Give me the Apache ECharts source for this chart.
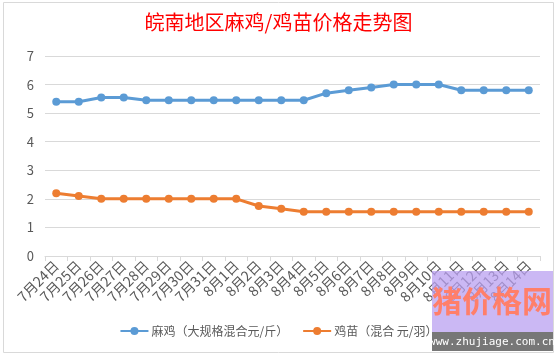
<!DOCTYPE html>
<html><head><meta charset="utf-8">
<script src="https://cdn.jsdelivr.net/npm/echarts@6/dist/echarts.min.js"></script>
<style>html,body{margin:0;padding:0;background:#fff}#c{width:557px;height:356px}</style>
</head><body><div id="c"></div>
<script>
var categories = ['7月24日','7月25日','7月26日','7月27日','7月28日','7月29日','7月30日','7月31日','8月1日','8月2日','8月3日','8月4日','8月5日','8月6日','8月7日','8月8日','8月9日','8月10日','8月11日','8月12日','8月13日','8月14日'];
var maji = [5.4,5.4,5.55,5.55,5.45,5.45,5.45,5.45,5.45,5.45,5.45,5.45,5.7,5.8,5.9,6.0,6.0,6.0,5.8,5.8,5.8,5.8];
var jimiao = [2.2,2.1,2.0,2.0,2.0,2.0,2.0,2.0,2.0,1.75,1.65,1.55,1.55,1.55,1.55,1.55,1.55,1.55,1.55,1.55,1.55,1.55];
var seriesNames = ['麻鸡（大规格混合元/斤）','鸡苗（混合 元/羽）'];
var yTicks = [0,1,2,3,4,5,6,7];

var chart = echarts.init(document.getElementById('c'), null, {renderer:'canvas'});
var font = '"Noto Sans CJK SC", sans-serif';
function mk(name, data, color){
  return {name:name, type:'line', data:data, symbol:'circle', symbolSize:8,
    lineStyle:{width:3,color:color}, itemStyle:{color:color}, animation:false};
}
chart.setOption({
  animation:false,
  textStyle:{fontFamily:font},
  title:{text:'皖南地区麻鸡/鸡苗价格走势图', left:'center', top:7,
    textStyle:{color:'#FF0000', fontSize:20, fontWeight:'normal', fontFamily:font}},
  grid:{left:45, right:17, top:56, bottom:100},
  legend:{bottom:14, left:'center', itemWidth:28, itemHeight:10, itemGap:14,
    textStyle:{color:'#595959', fontSize:12, fontFamily:font, padding:[0,0,0,-2]},
    data:seriesNames},
  xAxis:{type:'category', data:categories, boundaryGap:true,
    axisLine:{lineStyle:{color:'#D9D9D9'}},
    axisTick:{show:true, length:5, lineStyle:{color:'#D9D9D9'}},
    axisLabel:{rotate:45, color:'#595959', fontSize:14, interval:0, margin:7, fontFamily:font}},
  yAxis:{type:'value', min:yTicks[0], max:yTicks[yTicks.length-1], interval:1,
    axisLine:{show:false}, axisTick:{show:false},
    axisLabel:{color:'#595959', fontSize:13, margin:11, fontFamily:font},
    splitLine:{lineStyle:{color:'#D9D9D9'}}},
  series:[mk(seriesNames[0], maji, '#5B9BD5'), mk(seriesNames[1], jimiao, '#ED7D31')],
  graphic:[
    {type:'rect', shape:{x:3.5,y:2.5,width:550,height:350}, style:{fill:null, stroke:'#D9D9D9', lineWidth:1}, z:-1},
    {type:'rect', shape:{x:432,y:271,width:121,height:61}, style:{fill:'rgba(185,160,240,0.75)'}, z:100},
    {type:'text', x:492, y:301, style:{text:'猪价格网', fill:'#FF7F6A', font:'bold 30px "Noto Sans CJK SC", serif', align:'center', verticalAlign:'middle'}, z:101},
    {type:'rect', shape:{x:432,y:332,width:121,height:19}, style:{fill:'#777777'}, z:100},
    {type:'text', x:492, y:342, style:{text:'www.zhujiage.com.cn', fill:'#ffffff', font:'11px "DejaVu Sans Mono", monospace', align:'center', verticalAlign:'middle'}, z:101}
  ]
});
</script></body></html>
